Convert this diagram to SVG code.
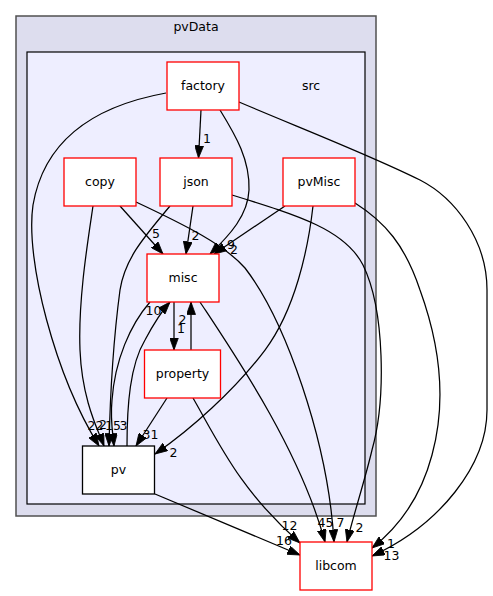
<svg xmlns="http://www.w3.org/2000/svg" width="493" height="596" viewBox="0 0 493 596">
<defs>
<marker id="ah" viewBox="0 0 12.5 9" refX="12.5" refY="4.5" markerWidth="12.5" markerHeight="9" orient="auto" markerUnits="userSpaceOnUse"><path d="M0,0L12.5,4.5L0,9z" fill="#000" stroke="#000" stroke-width="0.8"/></marker>
</defs>
<style>
.cl1{fill:#ddddee;stroke:#505050;stroke-width:1.5}
.cl2{fill:#eeeeff;stroke:#000;stroke-width:1.2}
.n{fill:#fff;stroke:#ff0000;stroke-width:1.3}
.nb{fill:#fff;stroke:#000;stroke-width:1.3}
.t{font-family:"DejaVu Sans",sans-serif;font-size:12.5px;fill:#000;text-anchor:middle}
.e path{fill:none;stroke:#000;stroke-width:1.25;marker-end:url(#ah)}
.e text{font-family:"DejaVu Sans",sans-serif;font-size:12.5px;fill:#000;text-anchor:middle}
</style>
<rect width="493" height="596" fill="#fff"/>
<g id="cluster_pvData">
<rect class="cl1" x="16" y="16" width="360" height="500"/>
<text class="t" x="196" y="31">pvData</text>
</g>
<g id="cluster_src">
<rect class="cl2" x="27" y="52" width="338" height="452"/>
<text class="t" x="311" y="90">src</text>
</g>
<g class="e" id="edges">
<path d="M166,93 C100,105 45,135 33,205 C25,260 55,375 99,446"/>
<path d="M93,206 C88,240 78,300 80,350 C82,400 98,430 104,446"/>
<path d="M170,206 C145,236 125,258 120,290 C114,335 110,400 109,446"/>
<path d="M150,302 C130,325 115,360 112,400 C110,420 113,435 114,446"/>
<path d="M127,446 C127,405 130,365 145,340 C153,325 160,313 170,302"/>
<path d="M201,110 L198.5,158"/>
<path d="M220,110 C236,136 250,160 249,190 C248,215 230,235 210,254"/>
<path d="M239,102 C300,128 370,155 420,180 C455,198 487,240 487,290 L487,410 C487,465 440,525 372,556"/>
<path d="M120,206 L163,254"/>
<path d="M136,202 C185,225 225,245 245,268 C285,320 328,440 334,542"/>
<path d="M193,206 L186,254"/>
<path d="M232,195 C300,216 345,230 363,265 C385,310 386,400 372,450 C365,480 352,520 347,542"/>
<path d="M285,206 L214,254"/>
<path d="M313,206 C308,250 295,310 265,350 C235,390 190,430 155,454"/>
<path d="M355,203 C385,222 405,245 420,290 C440,345 447,400 432,455 C420,500 395,530 372,548"/>
<path d="M174,302 L174,350"/>
<path d="M191,350 L191,302"/>
<path d="M200,302 C235,355 300,450 325,542"/>
<path d="M167,398 L136,446"/>
<path d="M193,398 C220,445 240,490 300,543"/>
<path d="M155,494 L300,555"/>
<text x="207" y="143">1</text>
<text x="231" y="248.5">9</text>
<text x="234" y="253.5">2</text>
<text x="391.5" y="560">13</text>
<text x="391" y="548">1</text>
<text x="156" y="238">5</text>
<text x="340.5" y="526.5">7</text>
<text x="325.5" y="526.5">45</text>
<text x="359.5" y="532">2</text>
<text x="289.5" y="530">12</text>
<text x="284" y="545">16</text>
<text x="195.5" y="240">2</text>
<text x="153.5" y="315">10</text>
<text x="182.5" y="324">2</text>
<text x="181" y="333">1</text>
<text x="150.5" y="439">31</text>
<text x="173.5" y="457">2</text>
<text x="95.5" y="430">22</text>
<text x="103" y="429">2</text>
<text x="113" y="430">15</text>
<text x="123.5" y="430">3</text>
</g>
<g id="node_factory"><rect class="n" x="167" y="62" width="72" height="48"/><text class="t" x="203" y="90">factory</text></g>
<g id="node_copy"><rect class="n" x="64" y="158" width="72" height="48"/><text class="t" x="100" y="186">copy</text></g>
<g id="node_json"><rect class="n" x="160" y="158" width="72" height="48"/><text class="t" x="196" y="186">json</text></g>
<g id="node_pvMisc"><rect class="n" x="283" y="158" width="72" height="48"/><text class="t" x="319" y="186">pvMisc</text></g>
<g id="node_misc"><rect class="n" x="147" y="254" width="72" height="48"/><text class="t" x="183" y="282">misc</text></g>
<g id="node_property"><rect class="n" x="144.5" y="350" width="76" height="48"/><text class="t" x="182.5" y="378">property</text></g>
<g id="node_pv"><rect class="nb" x="82.5" y="446" width="72" height="48"/><text class="t" x="118.5" y="474">pv</text></g>
<g id="node_libcom"><rect class="n" x="300" y="542" width="72" height="48"/><text class="t" x="336" y="570">libcom</text></g>
</svg>
